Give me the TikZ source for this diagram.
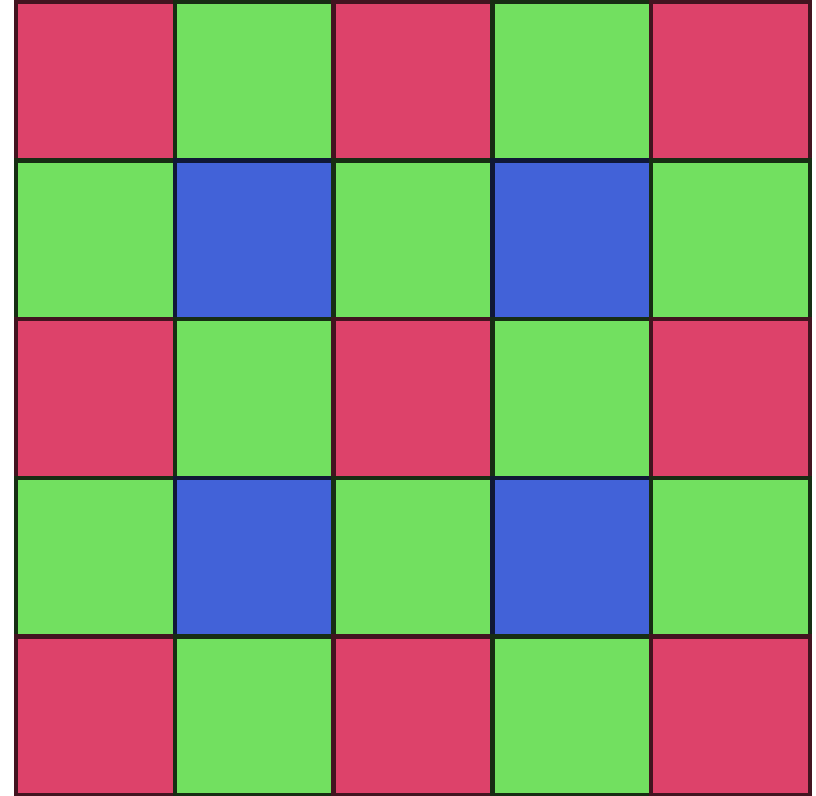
\documentclass[tikz,border=0pt]{standalone}
\usepackage{tikz}

\definecolor{bayerred}{RGB}{221,66,106}
\definecolor{bayergreen}{RGB}{114,224,96}
\definecolor{bayerblue}{RGB}{66,98,216}

\tikzset{
  pixel/.style={draw, rectangle, inner sep=0pt, outer sep=0pt,
    minimum width=15.88mm, minimum height=15.86mm, line width=0.45mm},
  redpx/.style={pixel, fill=bayerred, draw=bayerred!30!black},
  greenpx/.style={pixel, fill=bayergreen, draw=bayergreen!20!black},
  bluepx/.style={pixel, fill=bayerblue, draw=bayerblue!25!black}
}

\begin{document}
\begin{tikzpicture}[x=0.1mm, y=-0.1mm]
  \useasboundingbox (0,0) rectangle (816,796);
  % Bayer mosaic, 5 x 5 cells
  \foreach \r in {0,...,4} {
    \foreach \c in {0,...,4} {
      \pgfmathtruncatemacro{\pr}{mod(\r,2)}
      \pgfmathtruncatemacro{\pc}{mod(\c,2)}
      \ifnum\pr=0
        \ifnum\pc=0 \def\px{redpx}\else \def\px{greenpx}\fi
      \else
        \ifnum\pc=0 \def\px{greenpx}\else \def\px{bluepx}\fi
      \fi
      \node (cell-\r-\c) [\px] at ({16+158.8*(\c+0.5)}, {2+158.6*(\r+0.5)}) {};
    }
  }
\end{tikzpicture}
\end{document}
